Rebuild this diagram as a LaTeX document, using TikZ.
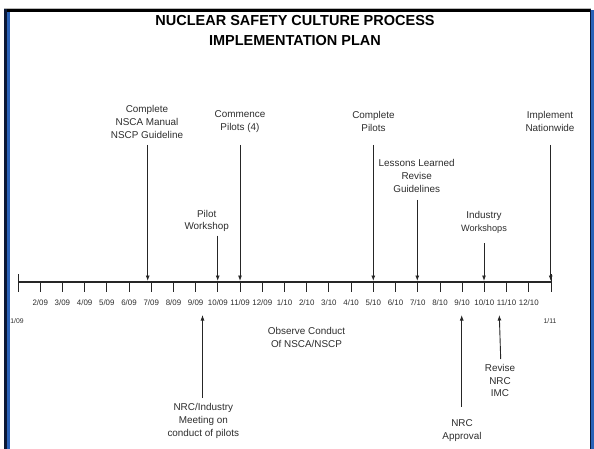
\documentclass[tikz,border=0pt]{standalone}
\usepackage{fontspec}
\setmainfont{Liberation Sans}
\usetikzlibrary{arrows.meta}
\definecolor{txt}{HTML}{2E2E2E}
\definecolor{ln}{HTML}{262626}
\definecolor{navy}{HTML}{0A1836}
\definecolor{bblue}{HTML}{2A62B8}
\begin{document}
\begin{tikzpicture}[x=1pt,y=-1pt,
  lbl/.style={align=center, inner sep=0pt, text=txt, font=\fontsize{9.9}{12.8}\selectfont},
  tlbl/.style={inner sep=0pt, text=txt, font=\fontsize{7.9}{9}\selectfont},
  elbl/.style={inner sep=0pt, text=txt, font=\fontsize{6.8}{8}\selectfont},
  arr/.style={draw=ln, line width=0.9pt, -{Latex[length=5.5pt,width=4pt]}},
  tickln/.style={draw=ln, line width=0.9pt},
  axisln/.style={draw=ln, line width=1.6pt},
  ttl/.style={align=center, inner sep=0pt, font=\fontsize{14.5}{19.5}\selectfont\bfseries}]
\useasboundingbox (0,0) rectangle (594,449);
\fill[white] (0,0) rectangle (594,449);
% frame
\fill[gray!55] (4,8) rectangle (591,9);
\fill[black] (4,9) rectangle (591,12);
\fill[navy] (4,9) rectangle (7,449);
\fill[bblue] (7,12) rectangle (10,449);
\fill[navy] (590.3,9) rectangle (591.2,449);
\fill[bblue] (591.2,10) rectangle (594,449);
% title
\node[ttl] (title) at (295,30.3) {NUCLEAR SAFETY CULTURE PROCESS\\IMPLEMENTATION PLAN};
% axis
\coordinate (a0) at (18,282);
\coordinate (a24) at (551,282);
\draw[axisln] (a0) -- (a24);
\draw[tickln] (18,274) -- (18,292);
\draw[tickln] (551,274) -- (551,292);
\foreach \lab [count=\i] in {2/09,3/09,4/09,5/09,6/09,7/09,8/09,9/09,10/09,11/09,12/09,1/10,2/10,3/10,4/10,5/10,6/10,7/10,8/10,9/10,10/10,11/10,12/10}{
  \coordinate (t\i) at ({18+22.208*\i},282);
  \draw[tickln] (t\i) -- ++(0,10);
  \node[tlbl] (tl\i) at ({18+22.208*\i},302.5) {\lab};
}
\node[elbl] (start) at (17,321) {1/09};
\node[elbl] (end) at (550,321) {1/11};
% top labels and arrows
\node[lbl] (nsca) at (147,122) {Complete\\NSCA Manual\\NSCP Guideline};
\coordinate (nscaA) at (147.7,145); \coordinate (nscaB) at (147.7,281);
\draw[arr] (nscaA) -- (nscaB);
\node[lbl] (comm) at (240,121.5) {Commence\\Pilots (4)};
\coordinate (commA) at (240,145); \coordinate (commB) at (240,281);
\draw[arr] (commA) -- (commB);
\node[lbl] (pw) at (206.7,221) {Pilot\\Workshop};
\coordinate (pwA) at (217.7,235.7); \coordinate (pwB) at (217.7,281);
\draw[arr] (pwA) -- (pwB);
\node[lbl] (cp) at (373.5,121.5) {Complete\\Pilots};
\coordinate (cpA) at (373.3,145); \coordinate (cpB) at (373.3,281);
\draw[arr] (cpA) -- (cpB);
\node[lbl] (ll) at (416.7,176) {Lessons Learned\\Revise\\Guidelines};
\coordinate (llA) at (417.3,200); \coordinate (llB) at (417.3,281);
\draw[arr] (llA) -- (llB);
\node[lbl] (iw) at (484,222.5) {Industry\\{\fontsize{9.2}{11}\selectfont Workshops}};
\coordinate (iwA) at (484,243); \coordinate (iwB) at (484,281);
\draw[arr] (iwA) -- (iwB);
\node[lbl] (imp) at (550,121.5) {Implement\\Nationwide};
\coordinate (impA) at (550.7,145); \coordinate (impB) at (550.7,281);
\draw[arr] (impA) -- (impB);
% bottom labels and arrows
\node[lbl] (obs) at (306.5,337.5) {Observe Conduct\\Of NSCA/NSCP};
\node[lbl] (nrci) at (203.3,421) {NRC/Industry\\Meeting on\\conduct of pilots};
\coordinate (nrciA) at (202.5,398); \coordinate (nrciB) at (202.5,315);
\draw[arr] (nrciA) -- (nrciB);
\node[lbl] (appr) at (462,430.5) {NRC\\Approval};
\coordinate (apprA) at (461.7,406.7); \coordinate (apprB) at (461.7,315);
\draw[arr] (apprA) -- (apprB);
\node[lbl] (rev) at (500,380.5) {Revise\\NRC\\IMC};
\coordinate (revA) at (500.7,359); \coordinate (revB) at (499.3,315);
\draw[arr] (revA) -- (revB);
\end{tikzpicture}
\end{document}
